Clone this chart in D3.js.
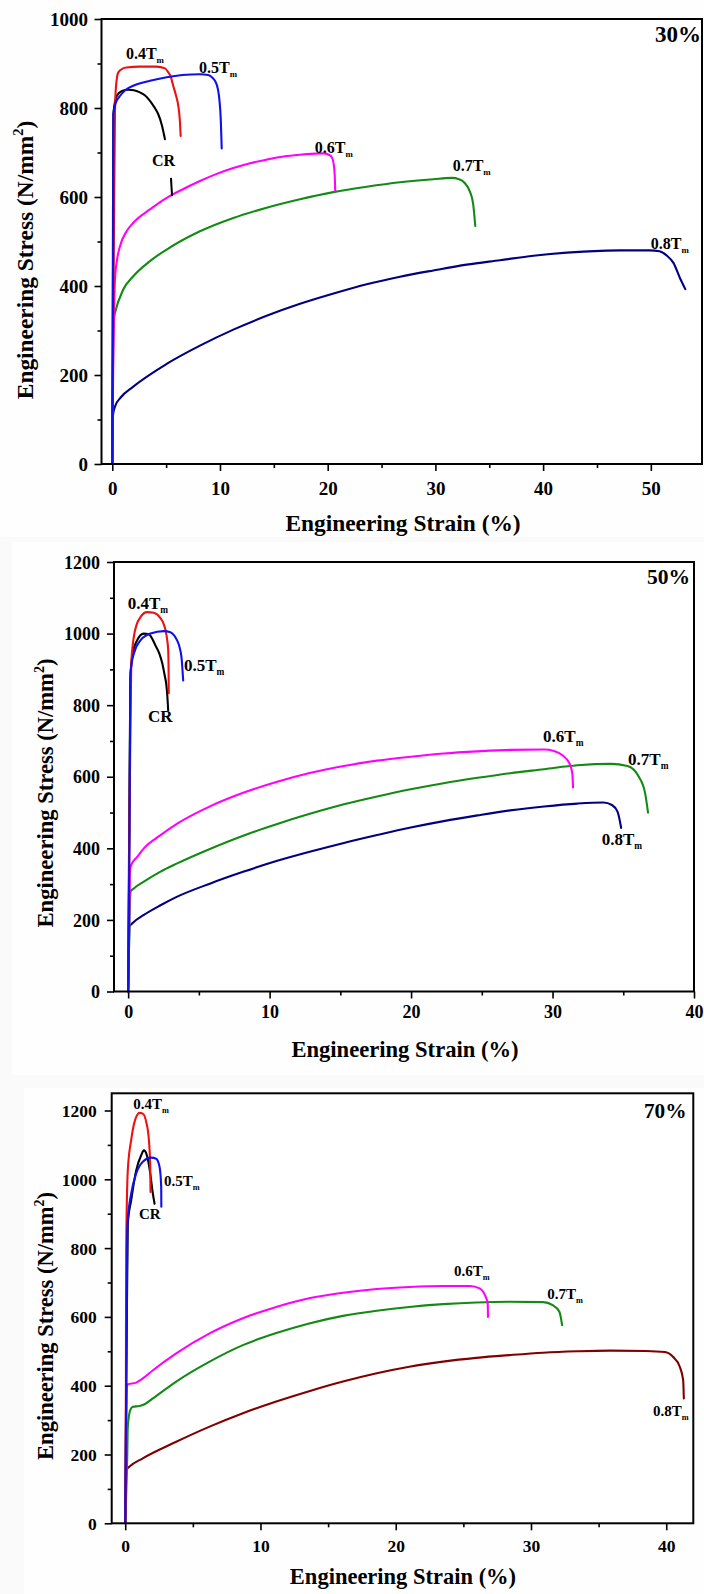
<!DOCTYPE html>
<html><head><meta charset="utf-8">
<script src="https://cdn.jsdelivr.net/npm/d3@7"></script>
<style>
body{margin:0;background:#fafafa}
svg{display:block}
text{font-family:"Liberation Serif","Times New Roman",serif;font-weight:bold;fill:#000}
</style>
</head><body>
<svg id="c" width="704" height="1594"></svg>
<script>
// ---------- DATA (strain %, stress N/mm2) ----------
// 30% reduction
const p30_CR  = [[0,0],[0.05,400],[0.1,786],[0.41,827],[0.9,838],[1.49,841],[2.0,840],[2.57,835],[3.05,828],[3.5,816],[3.9,802],[4.27,786],[4.6,762],[4.89,730]];
const p30_04  = [[0,0],[0.15,500],[0.25,790],[0.35,850],[0.56,880],[1.0,889],[1.34,891],[2.5,893],[4.12,893],[4.89,889],[5.2,880],[5.4,872],[5.66,850],[5.95,825],[6.13,805],[6.28,770],[6.35,737]];
const p30_05  = [[0,0],[0.08,500],[0.1,786],[0.3,810],[0.71,827],[1.2,840],[1.95,850],[3.5,861],[5.05,869],[6.5,874],[8.14,876],[8.9,874],[9.3,868],[9.54,861],[9.8,843],[9.94,820],[10.08,770],[10.16,709]];
const p30_06  = [[0,0],[0.1,250],[0.2,380],[0.25,414],[0.45,460],[0.71,489],[1.33,523],[1.95,542],[3.5,572],[5.05,598],[6.6,618],[8.14,636],[9.7,652],[11.24,665],[12.8,676],[14.33,684],[15.9,691],[17.43,695],[18.5,697],[19.6,698],[20.1,695],[20.37,690],[20.55,675],[20.65,650],[20.7,613]];
const p30_07  = [[0,0],[0.09,320],[0.25,339],[1.02,392],[1.95,422],[3.5,456],[5.05,482],[8.14,523],[11.24,553],[14.33,576],[17.43,595],[20.53,611],[23.62,623],[26.72,633],[29.81,640],[31.5,643],[32.2,640],[32.7,632],[33.2,612],[33.5,585],[33.7,535]];
const p30_08  = [[0,0],[0.08,112],[0.25,129],[0.8,150],[1.95,174],[5.05,225],[8.14,266],[11.24,302],[14.33,333],[17.43,360],[20.53,383],[23.62,404],[26.72,421],[29.81,435],[32.9,448],[36.0,458],[39.1,468],[42.2,475],[45.3,479],[47.15,480],[49.9,480],[50.8,478],[51.5,468],[52.1,452],[52.7,418],[53.2,393]];
const p30_crPointer = [[5.45,643],[5.55,602]];

// 50% reduction
const p50_CR  = [[0,0],[0.08,500],[0.16,879],[0.35,950],[0.63,981],[1.1,1000],[1.46,998],[1.93,967],[2.2,945],[2.42,916],[2.6,880],[2.69,860],[2.78,820],[2.83,785]];
const p50_04  = [[0,0],[0.1,500],[0.16,730],[0.22,916],[0.4,990],[0.6,1025],[0.87,1046],[1.34,1060],[1.81,1058],[2.28,1043],[2.5,1028],[2.64,1010],[2.75,985],[2.83,954],[2.86,898],[2.87,833]];
const p50_05  = [[0,0],[0.1,450],[0.16,888],[0.4,944],[0.87,981],[1.58,1000],[2.52,1007],[2.99,1004],[3.25,995],[3.46,981],[3.65,960],[3.77,934],[3.89,869]];
const p50_06  = [[0,0],[0.1,250],[0.12,330],[0.21,353],[0.64,376],[1.11,400],[2.29,437],[3.47,469],[5.82,518],[8.18,556],[10.54,586],[12.9,611],[15.25,630],[17.6,645],[19.97,656],[22.3,665],[24.7,671],[27.0,675],[29.4,676],[30.1,672],[30.7,660],[31.2,637],[31.4,609],[31.45,570]];
const p50_07  = [[0,0],[0.1,200],[0.17,279],[0.4,288],[1.11,307],[2.29,335],[3.47,358],[5.82,399],[8.18,436],[10.54,468],[12.9,497],[15.25,523],[17.6,545],[19.97,565],[22.3,582],[24.7,597],[27.0,610],[29.4,621],[31.75,632],[34.1,636],[35.3,630],[36.1,600],[36.55,553],[36.75,500]];
const p50_08  = [[0,0],[0.07,150],[0.09,181],[0.28,190],[1.11,214],[2.29,241],[3.47,265],[5.82,302],[8.18,335],[10.54,365],[12.9,391],[15.25,415],[17.6,437],[19.97,458],[22.3,476],[24.7,492],[27.0,506],[29.4,517],[31.75,525],[33.6,528],[34.2,521],[34.6,502],[34.85,457]];

// 70% reduction
const p70_CR  = [[0,0],[0.1,500],[0.19,871],[0.44,939],[0.81,1026],[1.18,1070],[1.38,1084],[1.6,1070],[1.85,1017],[2.04,959],[2.17,929]];
const p70_04  = [[0,0],[0.05,400],[0.07,790],[0.19,1026],[0.44,1114],[0.69,1167],[1.06,1193],[1.3,1191],[1.55,1167],[1.75,1114],[1.85,1036],[1.87,963]];
const p70_05  = [[0,0],[0.15,851],[0.19,881],[0.44,958],[0.81,1017],[1.3,1051],[1.92,1063],[2.29,1060],[2.54,1036],[2.66,978],[2.67,920]];
const p70_06  = [[0,0],[0.08,260],[0.12,402],[0.2,404],[0.81,409],[1.3,421],[2.05,445],[3.77,494],[6.24,552],[8.7,596],[11.17,629],[13.6,654],[16.1,670],[18.6,681],[21.0,687],[23.5,690],[25.5,690],[26.2,683],[26.6,663],[26.8,639],[26.82,600]];
const p70_07  = [[0,0],[0.15,200],[0.19,281],[0.37,329],[0.56,339],[1.06,341],[1.43,346],[2.05,363],[3.77,412],[6.24,470],[8.7,518],[11.17,553],[13.6,581],[16.1,603],[18.6,618],[21.0,629],[23.5,637],[25.96,642],[28.4,644],[30.9,643],[31.6,634],[32.1,615],[32.3,576]];
const p70_08  = [[0,0],[0.05,100],[0.08,155],[0.32,165],[1.3,189],[3.77,237],[6.24,281],[8.7,320],[11.17,354],[13.6,384],[16.1,412],[18.6,436],[21.0,455],[23.5,470],[25.96,481],[28.4,489],[30.9,496],[33.4,500],[35.8,502],[38.5,501],[39.9,498],[40.5,484],[41.0,455],[41.25,416],[41.3,363]];

// ticks
const xTicks30 = [0,10,20,30,40,50];
const xMinor30 = [5,15,25,35,45];
const yTicks30 = [0,200,400,600,800,1000];
const yMinor30 = [100,300,500,700,900];
const xTicks50 = [0,10,20,30,40];
const xMinor50 = [5,15,25,35];
const yTicks50 = [0,200,400,600,800,1000,1200];
const yMinor50 = [100,300,500,700,900,1100];
const xTicks70 = [0,10,20,30,40];
const xMinor70 = [5,15,25,35];
const yTicks70 = [0,200,400,600,800,1000,1200];
const yMinor70 = [100,300,500,700,900,1100];

// series names / labels (label anchor in data units)
const seriesOrder = ["0.8","0.7","0.6","CR","0.4","0.5"];
const labels30 = [["0.4T","m",1.27,910],["0.5T","m",8.05,878],["0.6T","m",18.8,700],["0.7T","m",31.6,658],["0.8T","m",50.0,484],["CR","",3.69,669]];
const labels50 = [["0.4T","m",-0.03,1068],["0.5T","m",3.95,895],["CR","",1.41,752],["0.6T","m",29.33,697],["0.7T","m",35.34,632],["0.8T","m",33.48,409]];
const labels70 = [["0.4T","m",0.6,1204],["0.5T","m",2.87,980],["CR","",1.02,884],["0.6T","m",24.3,719],["0.7T","m",31.2,652],["0.8T","m",39.02,312]];
const panelTitles = ["30%","50%","70%"];

// ---------- DRAW ----------
const svg = d3.select("#c");
const bgs = [[0,0,704,537],[12,542,692,533],[24,1088,680,506]];
bgs.forEach(b => svg.append("rect").attr("x",b[0]).attr("y",b[1]).attr("width",b[2]).attr("height",b[3]).attr("fill","#fefefe"));

const panels = [
  {left:101.5,right:702,top:19,bottom:464,xd:[-1,54.75],yd:[0,1000],
   xT:xTicks30,xM:xMinor30,yT:yTicks30,yM:yMinor30,
   series:{"CR":p30_CR,"0.4":p30_04,"0.5":p30_05,"0.6":p30_06,"0.7":p30_07,"0.8":p30_08},
   c8:"#000080",labels:labels30,lf:16,tf:19,title:panelTitles[0],titleAt:[54.65,948],titleF:23,
   xLab:31,yLab:-13.5,xTitle:[403,531],yTitle:[33,260],axF:23.4,pointer:p30_crPointer},
  {left:114,right:694,top:562,bottom:991.5,xd:[-1,40],yd:[0,1200],
   xT:xTicks50,xM:xMinor50,yT:yTicks50,yM:yMinor50,
   series:{"CR":p50_CR,"0.4":p50_04,"0.5":p50_05,"0.6":p50_06,"0.7":p50_07,"0.8":p50_08},
   c8:"#000080",labels:labels50,lf:17,tf:18,title:panelTitles[1],titleAt:[39.72,1138],titleF:21.5,
   xLab:26.5,yLab:-14,xTitle:[405,1057],yTitle:[53,793],axF:22.6},
  {left:111.7,right:693.3,top:1093.3,bottom:1523.3,xd:[-1,42],yd:[0,1250],
   xT:xTicks70,xM:xMinor70,yT:yTicks70,yM:yMinor70,
   series:{"CR":p70_CR,"0.4":p70_04,"0.5":p70_05,"0.6":p70_06,"0.7":p70_07,"0.8":p70_08},
   c8:"#800000",labels:labels70,lf:15,tf:17.5,title:panelTitles[2],titleAt:[41.5,1177],titleF:21.3,
   xLab:29,yLab:-15,xTitle:[403,1583.5],yTitle:[53,1326],axF:22.5}
];

const colors = {"CR":"#000000","0.4":"#ee1111","0.5":"#1010ee","0.6":"#ff00ff","0.7":"#138a13"};

panels.forEach(p => {
  const x = d3.scaleLinear().domain(p.xd).range([p.left,p.right]);
  const y = d3.scaleLinear().domain(p.yd).range([p.bottom,p.top]);
  const g = svg.append("g");
  g.append("rect").attr("x",p.left).attr("y",p.top).attr("width",p.right-p.left).attr("height",p.bottom-p.top).attr("fill","#ffffff");

  // x axis major
  const gx = g.append("g").attr("transform",`translate(0,${p.bottom})`)
    .call(d3.axisBottom(x).tickValues(p.xT).tickSize(7).tickSizeOuter(0).tickFormat(d3.format("d")));
  gx.select(".domain").remove();
  gx.selectAll("line").attr("stroke","#000").attr("stroke-width",1.6);
  gx.selectAll("text").attr("dy",null).attr("y",p.xLab).style("font-size",p.tf+"px");
  const gxm = g.append("g").attr("transform",`translate(0,${p.bottom})`)
    .call(d3.axisBottom(x).tickValues(p.xM).tickSize(4).tickSizeOuter(0).tickFormat(""));
  gxm.select(".domain").remove();
  gxm.selectAll("line").attr("stroke","#000").attr("stroke-width",1.6);

  // y axis
  const gy = g.append("g").attr("transform",`translate(${p.left},0)`)
    .call(d3.axisLeft(y).tickValues(p.yT).tickSize(7).tickSizeOuter(0).tickFormat(d3.format("d")));
  gy.select(".domain").remove();
  gy.selectAll("line").attr("stroke","#000").attr("stroke-width",1.6);
  gy.selectAll("text").attr("x",p.yLab).attr("dy","0.34em").style("font-size",p.tf+"px");
  const gym = g.append("g").attr("transform",`translate(${p.left},0)`)
    .call(d3.axisLeft(y).tickValues(p.yM).tickSize(4).tickSizeOuter(0).tickFormat(""));
  gym.select(".domain").remove();
  gym.selectAll("line").attr("stroke","#000").attr("stroke-width",1.6);

  // curves
  const clipId = "clip"+Math.round(p.top);
  svg.append("clipPath").attr("id",clipId).append("rect")
    .attr("x",p.left).attr("y",p.top).attr("width",p.right-p.left).attr("height",p.bottom-p.top+2);
  const line = d3.line().x(d=>x(d[0])).y(d=>y(d[1])).curve(d3.curveMonotoneX);
  const cg = g.append("g").attr("clip-path",`url(#${clipId})`);
  seriesOrder.forEach(k => {
    cg.append("path").datum(p.series[k]).attr("d",line).attr("fill","none")
      .attr("stroke", k==="0.8" ? p.c8 : colors[k]).attr("stroke-width",2.1)
      .attr("stroke-linejoin","round").attr("stroke-linecap","round");
  });
  if (p.pointer) {
    g.append("path").datum(p.pointer).attr("d",d3.line().x(d=>x(d[0])).y(d=>y(d[1])))
      .attr("stroke","#000").attr("stroke-width",2).attr("fill","none");
  }

  // frame
  g.append("rect").attr("x",p.left).attr("y",p.top).attr("width",p.right-p.left).attr("height",p.bottom-p.top)
    .attr("fill","none").attr("stroke","#000").attr("stroke-width",2);

  // curve labels
  p.labels.forEach(l => {
    const t = g.append("text").attr("x",x(l[2])).attr("y",y(l[3])).style("font-size",p.lf+"px").text(l[0]);
    if (l[1]) t.append("tspan").attr("dy",4).style("font-size",(p.lf*0.55)+"px").text(l[1]);
  });
  // panel title
  g.append("text").attr("x",x(p.titleAt[0])).attr("y",y(p.titleAt[1])).attr("text-anchor","end")
    .style("font-size",p.titleF+"px").text(p.title);

  // axis titles
  g.append("text").attr("x",p.xTitle[0]).attr("y",p.xTitle[1]).attr("text-anchor","middle")
    .style("font-size",p.axF+"px").text("Engineering Strain (%)");
  const yt = g.append("text").attr("transform",`translate(${p.yTitle[0]},${p.yTitle[1]}) rotate(-90)`)
    .attr("text-anchor","middle").style("font-size",p.axF+"px");
  yt.append("tspan").text("Engineering Stress (N/mm");
  yt.append("tspan").attr("dy",-p.axF*0.42).style("font-size",(p.axF*0.62)+"px").text("2");
  yt.append("tspan").attr("dy",p.axF*0.42).text(")");
});
</script>
</body></html>
